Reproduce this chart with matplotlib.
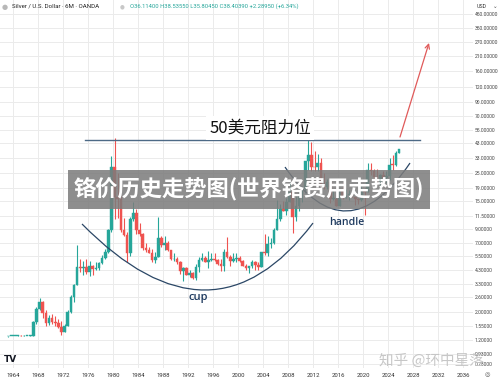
import matplotlib
matplotlib.use("Agg")
import matplotlib.pyplot as plt
from matplotlib.patches import Rectangle, PathPatch
from matplotlib.path import Path
from matplotlib.ticker import NullLocator

# ---------------- data (6M candles, 1963 H1 .. 2025 H2) ----------------
start_year = 1963
open_ = [1.28, 1.29, 1.29, 1.29, 1.29, 1.28, 1.29, 1.29,            # 1963-1966
         1.29, 1.66, 2.10, 2.40, 1.95, 1.62, 1.80, 1.65,            # 1967-1970
         1.64, 1.52, 1.38, 1.55, 2.00, 2.62, 3.25, 4.55,            # 1971-1974
         4.40, 4.50, 4.15, 4.60, 4.37, 4.45, 4.85, 5.35,            # 1975-1978
         5.90, 8.80, 28.0, 16.0, 15.6, 8.80, 8.10, 5.80,            # 1979-1982
         10.9, 12.1, 8.90, 8.30, 6.40, 6.15, 5.85, 5.10,            # 1983-1986
         5.40, 7.60, 6.70, 7.00, 6.10, 5.20, 5.20, 4.90,            # 1987-1990
         4.20, 4.40, 3.90, 4.05, 3.70, 4.50, 5.10, 5.30,            # 1991-1994
         4.90, 5.10, 5.20, 5.10, 4.80, 4.60, 5.95, 5.45,            # 1995-1998
         5.00, 5.20, 5.35, 5.00, 4.60, 4.40, 4.60, 4.90,            # 1999-2002
         4.70, 4.55, 5.95, 5.85, 6.80, 7.00, 8.90, 10.9,            # 2003-2006
         12.9, 12.4, 14.8, 17.5, 11.3, 13.6, 16.9, 18.7,            # 2007-2010
         30.9, 34.5, 28.0, 27.6, 30.0, 19.6, 19.5, 21.0,            # 2011-2014
         15.6, 15.6, 13.8, 18.6, 15.9, 16.6, 16.9, 16.1,            # 2015-2018
         15.5, 15.3, 17.9, 17.8, 26.4, 26.1, 23.3, 20.3,            # 2019-2022
         24.0, 22.8, 23.8, 29.1, 28.9, 36.1]                        # 2023-2025
high = [1.29, 1.29, 1.29, 1.30, 1.30, 1.30, 1.29, 1.30,
        1.70, 2.17, 2.56, 2.45, 2.05, 1.90, 1.92, 1.85,
        1.75, 1.70, 1.60, 2.05, 2.70, 3.30, 6.70, 5.20,
        5.00, 5.20, 5.00, 4.70, 4.95, 4.90, 5.60, 6.30,
        9.00, 34.0, 47.5, 25.0, 16.5, 11.0, 8.50, 11.2,
        14.7, 12.9, 10.1, 8.40, 7.00, 6.50, 6.30, 5.90,
        11.2, 8.00, 7.90, 7.20, 6.20, 5.80, 5.40, 5.00,
        4.50, 4.50, 4.30, 4.10, 4.80, 5.40, 5.80, 5.50,
        6.00, 5.80, 5.80, 5.20, 5.20, 6.30, 7.80, 5.60,
        5.80, 5.80, 5.50, 5.10, 4.80, 4.60, 5.10, 5.00,
        4.90, 5.95, 8.30, 7.90, 7.70, 9.20, 15.2, 14.3,
        14.9, 15.8, 21.3, 19.5, 16.3, 19.5, 19.8, 31.0,
        47.5, 44.2, 37.5, 35.4, 32.5, 25.1, 22.2, 21.6,
        18.5, 16.2, 18.6, 21.1, 18.7, 18.2, 17.7, 16.1,
        15.9, 19.7, 18.9, 29.9, 30.1, 26.8, 26.9, 24.3,
        26.1, 25.9, 32.5, 34.9, 37.3, 38.5355]
low = [1.27, 1.28, 1.29, 1.29, 1.28, 1.28, 1.29, 1.29,
       1.29, 1.60, 2.05, 1.80, 1.55, 1.58, 1.60, 1.55,
       1.50, 1.30, 1.38, 1.55, 1.95, 2.40, 3.25, 4.10,
       3.90, 3.95, 3.80, 3.90, 4.30, 4.30, 4.80, 5.20,
       5.80, 8.50, 10.8, 11.0, 8.50, 7.90, 4.90, 5.50,
       10.5, 8.30, 8.00, 6.20, 5.90, 5.80, 4.90, 4.85,
       5.40, 6.50, 6.20, 6.00, 5.10, 5.00, 4.80, 4.00,
       3.50, 3.90, 3.75, 3.65, 3.55, 4.10, 5.00, 4.90,
       4.40, 5.00, 5.00, 4.70, 4.20, 4.20, 5.30, 4.60,
       4.90, 4.90, 4.90, 4.60, 4.30, 4.05, 4.40, 4.30,
       4.30, 4.50, 5.60, 5.50, 6.40, 6.80, 8.80, 10.4,
       12.4, 11.6, 14.6, 8.40, 10.5, 12.5, 14.8, 17.3,
       26.3, 26.1, 26.1, 26.1, 18.2, 18.8, 18.6, 14.5,
       15.3, 13.6, 13.6, 15.6, 15.7, 15.2, 16.1, 13.9,
       14.3, 14.9, 11.6, 17.7, 24.1, 21.4, 20.3, 17.6,
       19.9, 20.7, 21.9, 26.5, 28.3, 35.8045]
close = [1.29, 1.29, 1.29, 1.29, 1.28, 1.29, 1.29, 1.29,
         1.66, 2.10, 2.40, 1.95, 1.62, 1.80, 1.65, 1.64,
         1.52, 1.38, 1.55, 2.00, 2.62, 3.25, 4.55, 4.40,
         4.50, 4.15, 4.60, 4.37, 4.45, 4.85, 5.35, 5.90,
         8.80, 28.0, 16.0, 15.6, 8.80, 8.10, 5.80, 10.9,
         12.1, 8.90, 8.30, 6.40, 6.15, 5.85, 5.10, 5.40,
         7.60, 6.70, 7.00, 6.10, 5.20, 5.20, 4.90, 4.20,
         4.40, 3.90, 4.05, 3.70, 4.50, 5.10, 5.30, 4.90,
         5.10, 5.20, 5.10, 4.80, 4.60, 5.95, 5.45, 5.00,
         5.20, 5.35, 5.00, 4.60, 4.40, 4.60, 4.90, 4.70,
         4.55, 5.95, 5.85, 6.80, 7.00, 8.90, 10.9, 12.9,
         12.4, 14.8, 17.5, 11.3, 13.6, 16.9, 18.7, 30.9,
         34.5, 28.0, 27.6, 30.0, 19.6, 19.5, 21.0, 15.6,
         15.6, 13.8, 18.6, 15.9, 16.6, 16.9, 16.1, 15.5,
         15.3, 17.9, 17.8, 26.4, 26.1, 23.3, 20.3, 24.0,
         22.8, 23.8, 29.1, 28.9, 36.1, 38.4039]

year_ticks = list(range(1964, 2037, 4))
price_ticks = [450, 350, 270, 210, 160, 120, 90, 70, 55, 43, 33, 25, 19, 15,
               11.5, 9, 7, 5.5, 4.3, 3.3, 2.6, 2.0, 1.55, 1.2, 0.93, 0.78]
price_labels = [f"{v:.5f}" for v in price_ticks]

header_left = "Silver / U.S. Dollar · 6M · OANDA"
header_ohlc = "O36.11400 H38.53550 L35.80450 C38.40390 +2.28950 (+6.34%)"
title = "铬价历史走势图(世界铬费用走势图)"
resist_label = "50美元阻力位"
watermark = "知乎 @环中星落"

# ---------------- figure ----------------
W, H = 500, 380
fig = plt.figure(figsize=(5, 3.8), dpi=100)
fig.patch.set_facecolor("white")
ax = fig.add_axes([0, 12 / H, 473 / W, 368 / H])
ax.set_yscale("log")
ax.set_xlim(1961.92, 2037.6)
ax.set_ylim(0.719, 580)
for s in ax.spines.values():
    s.set_visible(False)

GREEN = "#26a69a"
RED = "#ef5350"

t = [start_year + 0.5 * i + 0.25 for i in range(len(close))]
cols = [GREEN if c >= o else RED for o, c in zip(open_, close)]
ax.vlines(t, low, high, colors=cols, linewidth=0.8, zorder=3)
bottoms = [min(o, c) for o, c in zip(open_, close)]
heights = [max(abs(c - o), 0.012 * min(o, c)) for o, c in zip(open_, close)]
ax.bar(t, heights, bottom=bottoms, width=0.42, color=cols, edgecolor=cols,
       linewidth=0.3, zorder=4)

# axes ticks / grid
ax.set_xticks(year_ticks)
ax.set_xticklabels([str(y) for y in year_ticks], fontsize=4.3, color="#333333",
                   family="Roboto")
ax.tick_params(axis="x", length=0, pad=3.5)
ax.yaxis.tick_right()
ax.yaxis.set_minor_locator(NullLocator())
ax.set_yticks(price_ticks)
ax.set_yticklabels(price_labels, fontsize=3.6, color="#444444", family="Roboto")
ax.tick_params(axis="y", length=0, pad=1.3)
ax.grid(True, color="#ebebeb", linewidth=0.7, zorder=0)
ax.set_axisbelow(True)

# ---------------- annotations ----------------
NAVY = "#2b4766"
cup_path = Path([(1975.04, 9.87), (1995.92, 0.886), (2012.0, 10.04)],
                [Path.MOVETO, Path.CURVE3, Path.CURVE3])
ax.add_patch(PathPatch(cup_path, facecolor="none", edgecolor=NAVY, lw=0.9, zorder=6))
handle_path = Path([(2007.52, 27.8), (2017.36, 5.42), (2027.52, 29.9)],
                   [Path.MOVETO, Path.CURVE3, Path.CURVE3])
ax.add_patch(PathPatch(handle_path, facecolor="none", edgecolor=NAVY, lw=0.9, zorder=6))
ax.text(1993.6, 2.57, "cup", fontsize=8, color="#1e3a5f", fontweight="semibold",
        ha="center", va="center", zorder=7, family="Open Sans")
ax.text(2017.44, 10.2, "handle", fontsize=7.6, color="#1e3a5f", fontweight="semibold",
        ha="center", va="center", zorder=7, family="Open Sans")

ax.plot([1975.52, 2029.12], [45.5, 45.5], color="#4d6a86", lw=1.0, zorder=6)
ax.text(2003.52, 56.6, resist_label, fontsize=12, color="#111111",
        ha="center", va="center", zorder=8, family=["Noto Sans CJK SC", "DejaVu Sans"],
        bbox=dict(facecolor="white", edgecolor="none", pad=2.5))

ax.annotate("", xy=(2030.56, 265.5), xytext=(2025.92, 48.0),
            arrowprops=dict(arrowstyle="->", color="#e05a5a", lw=0.9,
                            shrinkA=0, shrinkB=0, mutation_scale=8), zorder=7)

# ---------------- overlays ----------------
def fx(x):
    return x / W


def fy(y):
    return 1 - y / H


band = Rectangle((fx(68), fy(209)), 362 / W, 39 / H, transform=fig.transFigure,
                 facecolor="#7c7c7c", alpha=0.86, edgecolor="none", zorder=10)
fig.add_artist(band)
fig.text(fx(249), fy(189), title, fontsize=16, color="white", fontweight="bold",
         ha="center", va="center", zorder=11,
         family=["Noto Sans CJK SC", "DejaVu Sans"])

fig.text(fx(431), fy(361), watermark, fontsize=10.5, color="#c4c4c4", alpha=0.95,
         ha="center", va="center", zorder=11,
         family=["Noto Sans CJK SC", "DejaVu Sans"])

# header
fig.text(fx(5), fy(6.5), "●", fontsize=5, color="#b8b8b8", ha="center", va="center", zorder=12)
fig.text(fx(12), fy(6.5), header_left, fontsize=4.4, color="#222222",
         ha="left", va="center", zorder=12, family="Roboto")
fig.text(fx(122), fy(6.5), "●", fontsize=4, color="#c8c8c8", ha="center", va="center", zorder=12)
fig.text(fx(130), fy(6.5), header_ohlc, fontsize=4.2, color=GREEN,
         ha="left", va="center", zorder=12, family="Roboto")
fig.text(fx(477), fy(6), "USD", fontsize=3.8, color="#333333",
         ha="left", va="center", zorder=12, family="Roboto")
fig.text(fx(495), fy(6), "⌄", fontsize=4, color="#555555",
         ha="center", va="center", zorder=12)

fig.text(fx(11), fy(360), "TV", fontsize=6.5, color="#131722", fontweight="black",
         ha="center", va="center", zorder=12)
fig.text(fx(487), fy(375), "◎", fontsize=4.5, color="#555555",
         ha="center", va="center", zorder=12)

fig.savefig("out.png", dpi=100, facecolor="white")
